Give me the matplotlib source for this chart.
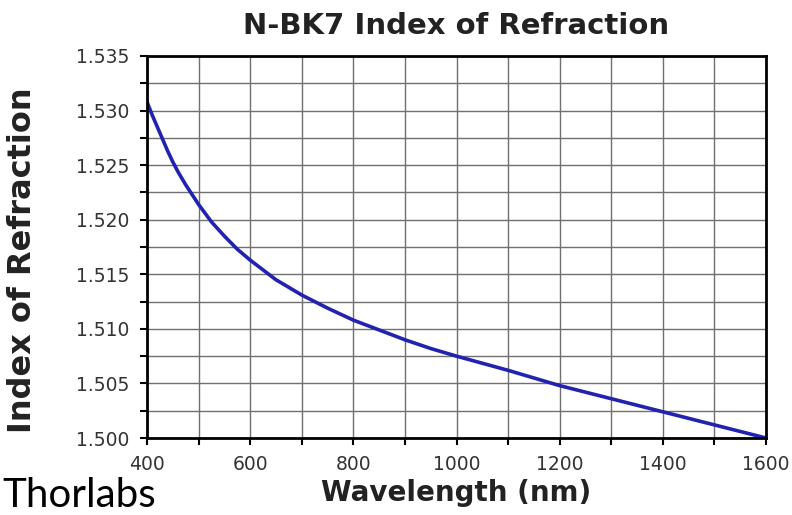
import numpy as np
import matplotlib.pyplot as plt
from matplotlib.ticker import MultipleLocator, FormatStrFormatter

# N-BK7 refractive index
wavelength = [400, 410, 420, 430, 440, 450, 460, 475, 500, 525, 550, 575,
              600, 625, 650, 675, 700, 750, 800, 850, 900, 950, 1000, 1100,
              1200, 1300, 1400, 1500, 1600]  # nm
index = [1.5308, 1.5296, 1.5285, 1.5274, 1.5263, 1.5253, 1.5244, 1.5232,
         1.5214, 1.5198, 1.5185, 1.5173, 1.5163, 1.5154, 1.5145, 1.5138,
         1.5131, 1.5119, 1.5108, 1.5099, 1.5090, 1.5082, 1.5075, 1.5062,
         1.5048, 1.5036, 1.5024, 1.5012, 1.5000]

plt.rcParams['font.family'] = 'DejaVu Sans'

fig = plt.figure(figsize=(7.92, 5.15), dpi=100)
ax = fig.add_axes([147/792, 1 - 438/515, (766 - 147)/792, (438 - 56)/515])

ax.plot(wavelength, index, color='#2222b0', lw=2.6, solid_capstyle='round',
        solid_joinstyle='round')

ax.set_xlim(400, 1600)
ax.set_ylim(1.500, 1.535)
ax.xaxis.set_major_locator(MultipleLocator(200))
ax.xaxis.set_minor_locator(MultipleLocator(100))
ax.yaxis.set_major_locator(MultipleLocator(0.005))
ax.yaxis.set_minor_locator(MultipleLocator(0.0025))
ax.yaxis.set_major_formatter(FormatStrFormatter('%.3f'))

ax.grid(which='both', color='#707070', lw=1.0)
ax.set_axisbelow(True)
for s in ax.spines.values():
    s.set_linewidth(2.0)
    s.set_color('black')

ax.tick_params(which='both', direction='out', length=5, width=1.5,
               color='black', labelcolor='#333333', labelsize=13.5)
ax.tick_params(axis='x', pad=7)
ax.tick_params(axis='y', pad=8)

ax.set_title('N-BK7 Index of Refraction', fontsize=21, fontweight='bold',
             color='#222222', pad=16)
ax.set_xlabel('Wavelength (nm)', fontsize=20, fontweight='bold',
              color='#222222', labelpad=4)
fig.text(23/792, 1 - 260/515, 'Index of Refraction', rotation=90,
         fontsize=23, fontweight='bold', color='#222222',
         ha='center', va='center')

fig.text(2/792, 1/515, 'Thorlabs', fontsize=29, family='Lato',
         color='black', ha='left', va='bottom')

fig.savefig('out.png', dpi=100)
